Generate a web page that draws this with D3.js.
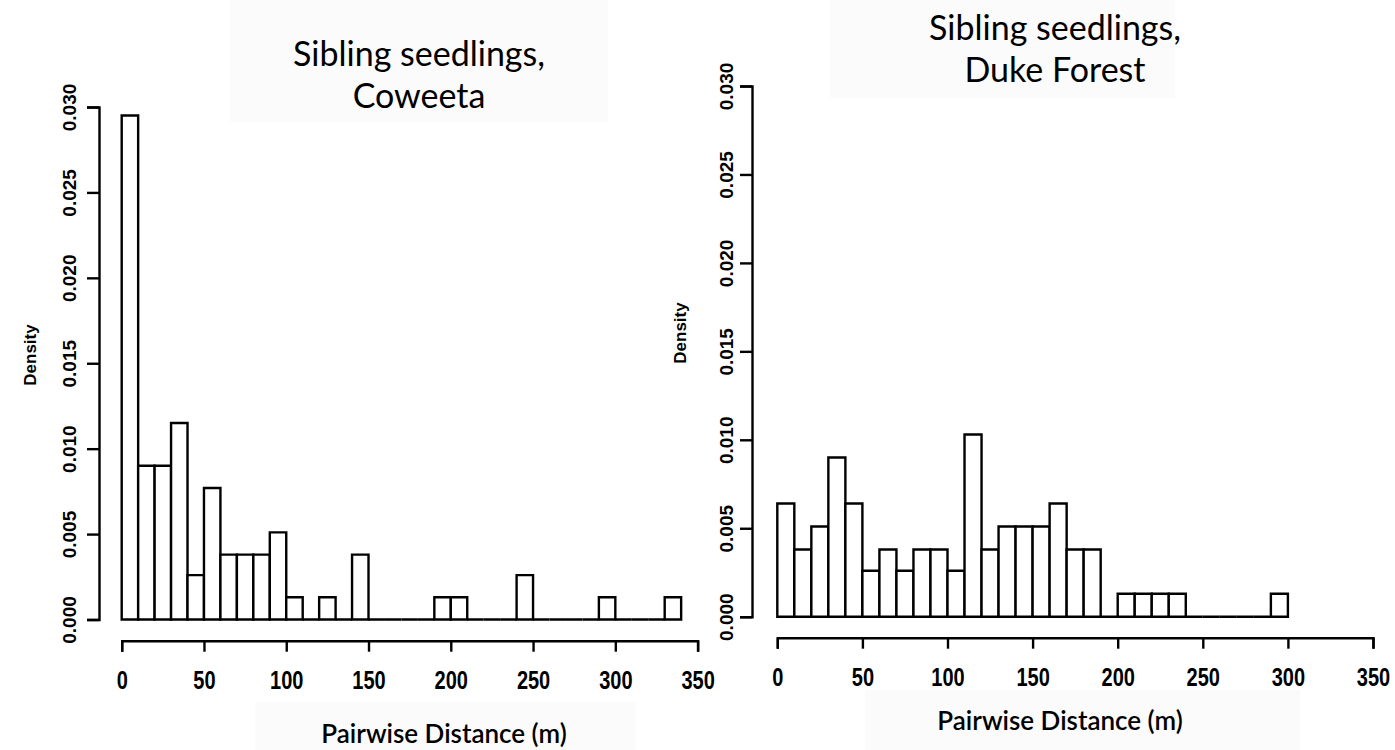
<!DOCTYPE html>
<html>
<head>
<meta charset="utf-8">
<script src="https://cdn.jsdelivr.net/npm/d3@7"></script>
<style>
  body { margin: 0; background: #fff; }
  .tick text { font-family: "Liberation Sans", Arial, sans-serif; font-weight: bold; fill: #000; }
  .ttl { font-family: Lato, "Open Sans", sans-serif; fill: #000; }
</style>
</head>
<body>
<div id="chart"></div>
<script>
//Dados: densidade por classe de 10 m
var binWidth = 10;
var cowDensity = [0.0295, 0.0090, 0.0090, 0.0115, 0.0026, 0.0077, 0.0038, 0.0038, 0.0038, 0.0051,
                  0.0013, 0, 0.0013, 0, 0.0038, 0, 0, 0, 0, 0.0013,
                  0.0013, 0, 0, 0, 0.0026, 0, 0, 0, 0, 0.0013,
                  0, 0, 0, 0.0013];
var dukeDensity = [0.0064, 0.0038, 0.0051, 0.0090, 0.0064, 0.0026, 0.0038, 0.0026, 0.0038, 0.0038,
                   0.0026, 0.0103, 0.0038, 0.0051, 0.0051, 0.0051, 0.0064, 0.0038, 0.0038, 0,
                   0.0013, 0.0013, 0.0013, 0.0013, 0, 0, 0, 0, 0, 0.0013];
var xTicks = [0, 50, 100, 150, 200, 250, 300, 350];
var yTicks = [0, 0.005, 0.010, 0.015, 0.020, 0.025, 0.030];
var cowTitle = ["Sibling seedlings,", "Coweeta"];
var dukeTitle = ["Sibling seedlings,", "Duke Forest"];
var xTitle = "Pairwise Distance (m)";
var yTitle = "Density";

var svg = d3.select("#chart").append("svg")
  .attr("width", 1395)
  .attr("height", 750);

//Caixas claras atras dos titulos (como no original)
[[230, 0, 378, 122], [255, 702, 380, 48], [830, 0, 345, 98], [865, 690, 435, 60]].forEach(function(b) {
  svg.append("rect").attr("x", b[0]).attr("y", b[1]).attr("width", b[2]).attr("height", b[3])
    .attr("fill", "#fbfbfb");
});

function drawPanel(p) {
  var x = d3.scaleLinear().domain([0, 350]).range([p.x0, p.x1]);
  var y = d3.scaleLinear().domain([0, 0.03]).range([p.y0, p.y1]);
  var bins = p.data.map(function(d, i) { return { a: i * binWidth, b: (i + 1) * binWidth, v: d }; });
  var g = svg.append("g");

  //Barras (caminho para que barras de altura zero virem linha)
  g.selectAll(".bar")
    .data(bins)
    .enter().append("path")
    .attr("class", "bar")
    .attr("d", function(d) {
      return "M" + x(d.a) + "," + y(0) + "V" + y(d.v) + "H" + x(d.b) + "V" + y(0) + "Z";
    })
    .attr("fill", "#fff")
    .attr("stroke", "#000")
    .attr("stroke-width", 2.4);

  //Eixo x
  var ax = g.append("g")
    .attr("transform", "translate(0," + p.xAxisY + ")")
    .call(d3.axisBottom(x).tickValues(xTicks).tickSizeOuter(0).tickSize(11).tickPadding(12));
  ax.select(".domain").attr("stroke-width", 2.4);
  ax.selectAll(".tick line").attr("stroke-width", 2.4);
  ax.selectAll(".tick text")
    .attr("font-size", 20)
    .attr("transform", "scale(1,1.3)");

  //Eixo y
  var ay = g.append("g")
    .attr("transform", "translate(" + p.yAxisX + ",0)")
    .call(d3.axisLeft(y).tickValues(yTicks).tickFormat(d3.format(".3f")).tickSizeOuter(0).tickSize(12));
  ay.select(".domain").attr("stroke-width", 2.4);
  ay.selectAll(".tick line").attr("stroke-width", 2.4);
  ay.selectAll(".tick text")
    .attr("font-size", 19)
    .attr("text-anchor", "middle")
    .attr("x", null).attr("dy", null)
    .attr("transform", "translate(" + (-p.labOff) + ",0) rotate(-90)")
    .attr("dominant-baseline", "central");

  //Titulos
  g.append("text")
    .attr("transform", "translate(" + p.dens[0] + "," + p.dens[1] + ") rotate(-90)")
    .attr("text-anchor", "middle")
    .attr("dominant-baseline", "central")
    .style("font-family", "'Liberation Sans', Arial, sans-serif")
    .style("font-weight", "bold")
    .attr("font-size", 17)
    .text(yTitle);
  p.title.forEach(function(t, i) {
    g.append("text").attr("class", "ttl")
      .attr("x", p.tx).attr("y", p.ty + i * 42)
      .attr("text-anchor", "middle")
      .attr("font-size", 34)
      .text(t);
  });
  g.append("text").attr("class", "ttl")
    .attr("x", p.xtx).attr("y", p.xty)
    .attr("text-anchor", "middle")
    .attr("font-size", 26)
    .attr("font-weight", 600)
    .text(xTitle);
}

drawPanel({ data: cowDensity, x0: 121.7, x1: 697.6, y0: 619.5, y1: 107,
  xAxisY: 640.7, yAxisX: 99, labOff: 30, dens: [30, 355],
  title: cowTitle, tx: 419, ty: 66, xtx: 444, xty: 743 });
drawPanel({ data: dukeDensity, x0: 777.3, x1: 1373, y0: 616.7, y1: 86,
  xAxisY: 637.7, yAxisX: 752, labOff: 26, dens: [680, 333],
  title: dukeTitle, tx: 1055, ty: 40, xtx: 1060, xty: 730 });
</script>
</body>
</html>
